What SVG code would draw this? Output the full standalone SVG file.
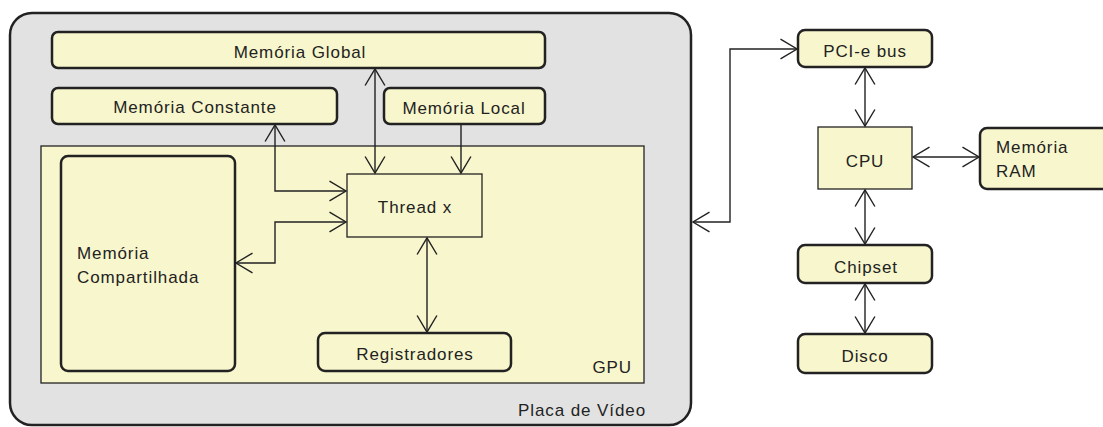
<svg xmlns="http://www.w3.org/2000/svg" width="1103" height="427" viewBox="0 0 1103 427">
<defs>
<marker id="arr" markerUnits="userSpaceOnUse" markerWidth="20" markerHeight="22" viewBox="-16 -10 18 20" refX="0" refY="0" orient="auto-start-reverse">
<path d="M-15,-9 L0,0 L-15,9" fill="none" stroke="#222" stroke-width="1.3"/>
</marker>
</defs>
<style>
.n{fill:#f8f6cc;stroke:#222;stroke-width:2.5}
.t{fill:#f8f6cc;stroke:#222;stroke-width:1.3}
.txt{font-family:"Liberation Sans",Arial,sans-serif;font-size:17px;fill:#222;letter-spacing:0.9px}
.c{text-anchor:middle}
.e{fill:none;stroke:#222;stroke-width:1.4}
</style>
<rect width="1103" height="427" fill="#ffffff"/>
<g id="placa">
<rect x="10" y="13" width="681" height="412" rx="22" fill="#e2e2e2" stroke="#222" stroke-width="2.5"/>
<text class="txt" x="646" y="416" text-anchor="end">Placa de Vídeo</text>
</g>
<g id="gpu">
<rect class="t" x="41" y="146" width="603" height="237"/>
<text class="txt" x="632" y="373" text-anchor="end">GPU</text>
</g>
<g id="mem-global">
<rect class="n" x="52" y="32" width="493" height="36" rx="6"/>
<text class="txt c" x="300" y="58">Memória Global</text>
</g>
<g id="mem-constante">
<rect class="n" x="52" y="88" width="285" height="36" rx="6"/>
<text class="txt c" x="195" y="113">Memória Constante</text>
</g>
<g id="mem-local">
<rect class="n" x="384" y="88" width="161" height="36" rx="6"/>
<text class="txt c" x="464" y="114">Memória Local</text>
</g>
<g id="mem-compartilhada">
<rect class="n" x="61" y="156" width="174" height="215" rx="7"/>
<text class="txt" x="77" y="259">Memória</text>
<text class="txt" x="77" y="283">Compartilhada</text>
</g>
<g id="thread">
<rect class="t" x="347" y="174" width="135" height="63"/>
<text class="txt c" x="415" y="213">Thread x</text>
</g>
<g id="registradores">
<rect class="n" x="318" y="333" width="193" height="38" rx="7"/>
<text class="txt c" x="415" y="360">Registradores</text>
</g>
<g id="pcie">
<rect class="n" x="798" y="30" width="134" height="37" rx="7"/>
<text class="txt c" x="865" y="57">PCI-e bus</text>
</g>
<g id="cpu">
<rect class="t" x="818" y="127" width="94" height="62"/>
<text class="txt c" x="865" y="167">CPU</text>
</g>
<g id="ram">
<rect class="n" x="980" y="128" width="140" height="61" rx="7"/>
<text class="txt" x="996" y="153">Memória</text>
<text class="txt" x="996" y="177">RAM</text>
</g>
<g id="chipset">
<rect class="n" x="798" y="245" width="134" height="38" rx="7"/>
<text class="txt c" x="866" y="273">Chipset</text>
</g>
<g id="disco">
<rect class="n" x="798" y="334" width="134" height="39" rx="7"/>
<text class="txt c" x="865" y="362">Disco</text>
</g>
<g id="connectors">
<path class="e" d="M375,69 L375,173" marker-start="url(#arr)" marker-end="url(#arr)"/>
<path class="e" d="M461,125 L461,173" marker-end="url(#arr)"/>
<path class="e" d="M275,125 L275,191 L346,191" marker-start="url(#arr)" marker-end="url(#arr)"/>
<path class="e" d="M236,263 L275,263 L275,222 L346,222" marker-start="url(#arr)" marker-end="url(#arr)"/>
<path class="e" d="M427,238 L427,332" marker-start="url(#arr)" marker-end="url(#arr)"/>
<path class="e" d="M693,222 L730,222 L730,49 L797,49" marker-start="url(#arr)" marker-end="url(#arr)"/>
<path class="e" d="M865,68 L865,126" marker-start="url(#arr)" marker-end="url(#arr)"/>
<path class="e" d="M913,157 L979,157" marker-start="url(#arr)" marker-end="url(#arr)"/>
<path class="e" d="M865,190 L865,244" marker-start="url(#arr)" marker-end="url(#arr)"/>
<path class="e" d="M865,284 L865,333" marker-start="url(#arr)" marker-end="url(#arr)"/>
</g>
</svg>
